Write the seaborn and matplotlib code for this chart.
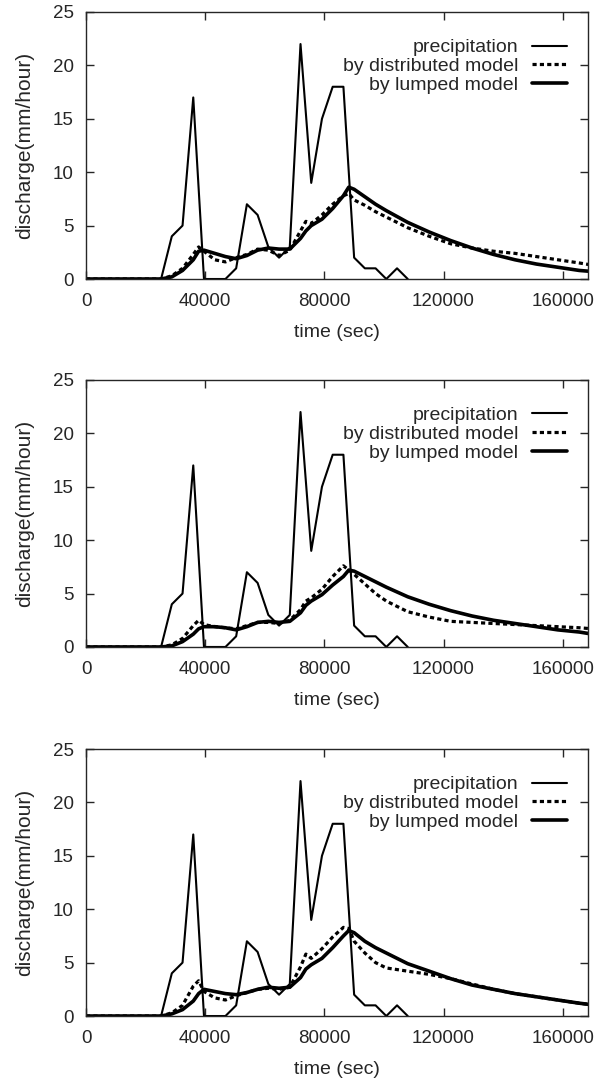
import numpy as np
import pandas as pd
import seaborn as sns
import matplotlib.pyplot as plt
from matplotlib.lines import Line2D

# precipitation (same for all three panels), hourly steps
precip_time = [0, 25200, 28800, 32400, 36000, 39600, 43200, 46800, 50400, 54000,
               57600, 61200, 64800, 68400, 72000, 75600, 79200, 82800, 86400,
               90000, 93600, 97200, 100800, 104400, 108000]
precip = [0, 0, 4, 5, 17, 0, 0, 0, 1, 7, 6, 3, 2, 3, 22, 9, 15, 18, 18,
          2, 1, 1, 0, 1, 0]

# model discharge time axis
model_time = [0, 25200, 28800, 32400, 36000, 37800, 39600, 43200, 46800, 50400,
              54000, 57600, 61200, 64800, 68400, 72000, 73800, 75600, 79200,
              82800, 86400, 88200, 90000, 93600, 97200, 100800, 108000, 115200,
              122400, 129600, 136800, 144000, 151200, 158400, 165600, 170000]

dist_1 = [0, 0, 0.3, 1.0, 2.3, 3.0, 2.6, 1.8, 1.6, 2.0, 2.3, 2.8, 2.7, 2.2, 2.7,
          4.5, 5.4, 5.2, 6.0, 7.0, 7.8, 8.0, 7.4, 6.9, 6.3, 5.8, 4.8, 4.0, 3.3,
          2.9, 2.6, 2.4, 2.1, 1.8, 1.5, 1.3]
lump_1 = [0, 0, 0.2, 0.8, 1.8, 2.6, 2.7, 2.4, 2.1, 1.9, 2.2, 2.7, 2.9, 2.8, 2.8,
          3.8, 4.5, 5.0, 5.6, 6.6, 7.8, 8.6, 8.4, 7.7, 7.0, 6.4, 5.3, 4.4, 3.6,
          2.9, 2.3, 1.8, 1.4, 1.1, 0.8, 0.7]

dist_2 = [0, 0, 0.2, 0.8, 2.0, 2.5, 2.1, 1.9, 1.8, 1.7, 2.0, 2.3, 2.3, 2.2, 2.5,
          3.5, 4.3, 4.6, 5.4, 6.6, 7.6, 7.2, 6.8, 5.9, 5.0, 4.3, 3.3, 2.8, 2.4,
          2.3, 2.2, 2.1, 2.0, 1.9, 1.8, 1.7]
lump_2 = [0, 0, 0.1, 0.5, 1.2, 1.7, 1.9, 1.9, 1.8, 1.6, 1.9, 2.3, 2.4, 2.3, 2.4,
          3.2, 3.9, 4.3, 4.9, 5.8, 6.6, 7.2, 7.1, 6.6, 6.1, 5.6, 4.7, 4.0, 3.4,
          2.9, 2.5, 2.2, 1.9, 1.6, 1.4, 1.2]

dist_3 = [0, 0, 0.3, 1.0, 2.8, 3.3, 2.3, 1.7, 1.5, 1.9, 2.2, 2.5, 2.6, 2.5, 2.7,
          4.6, 5.8, 5.4, 6.3, 7.4, 8.3, 8.2, 7.0, 5.9, 5.0, 4.5, 4.2, 3.9, 3.5,
          3.0, 2.5, 2.1, 1.8, 1.5, 1.2, 1.05]
lump_3 = [0, 0, 0.2, 0.6, 1.4, 2.1, 2.5, 2.3, 2.1, 2.0, 2.2, 2.5, 2.7, 2.6, 2.7,
          3.6, 4.4, 4.8, 5.4, 6.4, 7.5, 8.0, 7.8, 7.0, 6.4, 5.9, 4.9, 4.2, 3.5,
          2.9, 2.5, 2.1, 1.8, 1.5, 1.2, 1.05]

panels = [(dist_1, lump_1), (dist_2, lump_2), (dist_3, lump_3)]
labels = ['precipitation', 'by distributed model', 'by lumped model']
x_ticks = [0, 40000, 80000, 120000, 160000]
y_ticks = [0, 5, 10, 15, 20, 25]

sns.set_style("ticks")
plt.rcParams['font.family'] = ['Liberation Sans', 'DejaVu Sans']

fig = plt.figure(figsize=(6.07, 10.81), dpi=100)
tops = [0.9889, 0.6485, 0.3071]
height = 0.247

precip_df = pd.DataFrame({'time': precip_time, 'value': precip})
dash = [1.3, 1.0]

for top, (dist, lump) in zip(tops, panels):
    ax = fig.add_axes([0.1417, top - height, 0.827, height])
    df = pd.DataFrame({'time': model_time, 'dist': dist, 'lump': lump})

    sns.lineplot(data=precip_df, x='time', y='value', ax=ax, color='black',
                 linewidth=1.5, estimator=None, sort=False)
    sns.lineplot(data=df, x='time', y='dist', ax=ax, color='black',
                 linewidth=2.3, estimator=None, sort=False)
    ax.lines[-1].set_dashes(dash)
    sns.lineplot(data=df, x='time', y='lump', ax=ax, color='black',
                 linewidth=2.6, estimator=None, sort=False)

    ax.set_xlim(0, 168500)
    ax.set_ylim(0, 25)
    ax.set_xticks(x_ticks)
    ax.set_xticklabels([str(t) for t in x_ticks])
    ax.set_yticks(y_ticks)
    ax.tick_params(direction='in', length=6, width=1, top=True, right=True,
                   labelsize=13.5)
    ax.tick_params(axis='x', pad=10)
    ax.tick_params(axis='y', pad=9)
    for s in ax.spines.values():
        s.set_visible(True)
        s.set_linewidth(1.0)
    ax.set_xlabel('time (sec)', fontsize=14, labelpad=10)
    ax.set_ylabel('discharge(mm/hour)', fontsize=15, labelpad=13)

    handles = [Line2D([], [], color='black', lw=1.5),
               Line2D([], [], color='black', lw=2.3, dashes=dash),
               Line2D([], [], color='black', lw=2.6)]
    ax.legend(handles, labels, loc='upper right', bbox_to_anchor=(0.958, 0.90),
              frameon=False, markerfirst=False, fontsize=14, handlelength=1.8,
              handletextpad=0.7, labelspacing=0.06, borderaxespad=0,
              borderpad=0)

fig.savefig('out.png', dpi=100)
